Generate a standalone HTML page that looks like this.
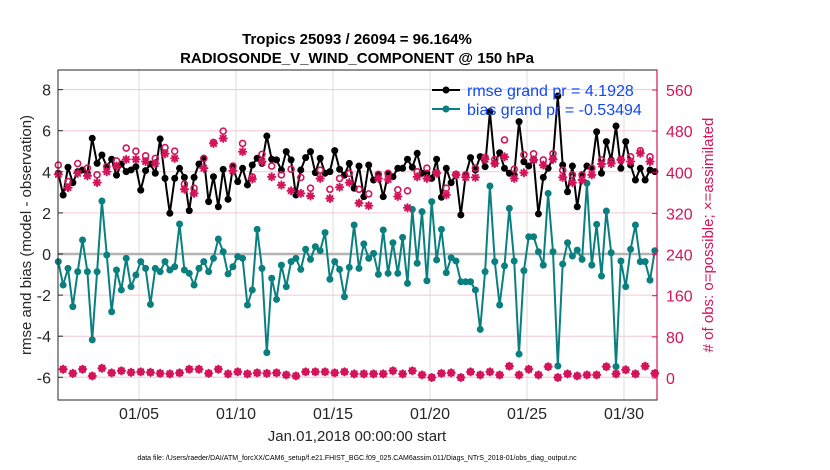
<!DOCTYPE html>
<html><head><meta charset="utf-8"><style>
body{margin:0;background:#fff;}
svg{display:block;font-family:"Liberation Sans",Arial,sans-serif;}
</style></head><body>
<svg id="chart" width="830" height="470" viewBox="0 0 830 470" xmlns="http://www.w3.org/2000/svg">
<text x="357" y="44" text-anchor="middle" font-size="15" font-weight="bold">Tropics 25093 / 26094 = 96.164%</text>
<text x="357" y="63" text-anchor="middle" font-size="15" font-weight="bold">RADIOSONDE_V_WIND_COMPONENT @ 150 hPa</text>
<g id="grid"></g>
<g id="marks"></g>
<rect x="58" y="70" width="599" height="330" fill="none" stroke="#262626" stroke-width="1"/>
<line x1="657" y1="70" x2="657" y2="400" stroke="#d4145a" stroke-width="1.2"/>
<g id="axes"></g>
<text transform="translate(31,235) rotate(-90)" text-anchor="middle" font-size="15" fill="#262626">rmse and bias (model - observation)</text>
<text transform="translate(713,235) rotate(-90)" text-anchor="middle" font-size="15" fill="#d4145a"># of obs: o=possible; ×=assimilated</text>
<text x="357" y="441" text-anchor="middle" font-size="15" fill="#262626">Jan.01,2018 00:00:00 start</text>
<text x="357" y="460" text-anchor="middle" font-size="7" fill="#000">data file: /Users/raeder/DAI/ATM_forcXX/CAM6_setup/f.e21.FHIST_BGC.f09_025.CAM6assim.011/Diags_NTrS_2018-01/obs_diag_output.nc</text>
<g>
 <g>
  <line x1="432" y1="90" x2="460" y2="90" stroke="#000" stroke-width="2"/>
  <circle cx="446" cy="90" r="3.5" fill="#000"/>
  <text x="467" y="96" font-size="16" fill="#1248f5">rmse grand pr = 4.1928</text>
 </g>
 <g>
  <line x1="432" y1="109" x2="460" y2="109" stroke="#0a7f7f" stroke-width="2"/>
  <circle cx="446" cy="109" r="3.5" fill="#0a7f7f"/>
  <text x="467" y="115" font-size="16" fill="#1248f5">bias grand pr = -0.53494</text>
 </g>
</g>
</svg>
<script>
const rmse=[3.93,2.87,4.22,3.47,4.01,4.09,3.93,5.63,4.41,4.82,4.25,4.61,3.84,4.38,4.01,4.09,4.25,3.11,4.06,4.38,3.93,5.60,3.68,1.98,3.68,4.17,3.73,2.11,3.73,4.38,4.66,2.55,3.76,2.30,4.12,2.66,4.22,3.52,4.17,3.36,4.33,4.66,4.41,5.74,
4.61,4.58,4.09,4.98,4.58,2.87,4.09,4.69,4.98,3.96,4.66,3.93,4.01,5.03,4.12,3.84,4.41,3.20,4.28,2.79,4.33,3.60,3.84,2.79,3.89,3.76,4.17,4.17,4.61,4.22,4.90,3.93,3.93,3.68,4.61,2.76,4.17,3.47,3.84,1.90,3.84,
4.69,4.09,4.74,4.25,6.93,4.41,4.93,4.17,3.93,3.84,6.44,4.49,4.28,4.57,1.95,3.73,4.17,4.66,7.69,4.33,3.03,4.28,2.30,3.84,4.28,4.17,5.95,3.93,5.47,4.57,6.23,4.17,5.47,4.33,3.60,4.17,3.60,4.09,4.01];
const bias=[-0.37,-1.51,-0.70,-2.56,-0.86,0.68,-0.86,-4.18,-0.86,2.58,-0.05,-2.81,-0.78,-1.75,-0.21,-1.59,-1.02,-0.37,-0.70,-2.45,-0.70,-0.86,-0.37,-0.78,-0.62,1.46,-0.78,-0.94,-1.51,-0.70,-0.37,-0.86,-0.21,0.73,0.11,-0.97,-0.62,-0.13,-0.21,-2.48,-1.75,1.20,-0.70,-4.80,
-1.18,-2.21,-0.54,-1.59,-0.37,-0.21,-0.75,0.23,-0.26,0.36,0.16,1.04,-1.23,-0.37,-0.75,-2.08,-0.65,1.41,-0.70,0.49,-0.21,0.03,-0.99,1.17,-0.94,0.55,-0.94,0.81,-1.43,2.17,-0.45,2.06,-1.30,2.55,-0.29,1.20,-0.91,-0.18,-0.34,-1.35,-1.35,
-1.35,-1.75,-3.67,-0.86,3.31,-0.37,-2.48,-0.58,2.22,-0.34,-4.87,-0.81,0.84,0.84,0.11,-0.54,2.95,0.11,-5.45,-0.49,0.55,-0.10,0.19,-0.26,3.44,-0.54,1.44,-1.07,2.09,0.06,-5.48,-0.34,-1.59,0.23,1.41,-0.37,-0.37,-1.27,0.16];
const possibleHigh=[414,382,417,408,395,411,422,447,441,432,427,448,441,377,369,427,458,480,412,456,391,435,
412,395,406,390,369,404,367,388,398,367,358,396,398,366,364,401,408,399,369,396,
395,408,429,425,463,406,434,436,424,436,404,395,395,408,424,421,425,430,442,430];
const assimHigh=[396,370,398,393,380,401,412,425,425,421,417,436,427,367,359,408,456,466,403,440,387,421,
391,375,364,359,354,388,349,371,380,340,335,388,386,353,331,391,388,398,356,395,
390,390,425,417,430,388,399,424,414,425,390,380,385,395,416,417,424,421,437,421];
const countLow=[17,9,17,4,19,10,14,11,12,11,9,8,10,17,17,9,17,8,12,8,10,9,
10,6,4,12,12,12,10,12,8,8,8,8,14,8,14,6,1,9,10,1,
12,6,12,6,23,6,17,6,22,1,8,4,6,6,22,8,16,8,23,9];
const xTickLabels=['01/05','01/10','01/15','01/20','01/25','01/30'];
const xTickDays=[5,10,15,20,25,30];
const yLeftTicks=[-6,-4,-2,0,2,4,6,8];
const yRightTicks=[0,80,160,240,320,400,480,560];

const NS='http://www.w3.org/2000/svg';
const X0=58,X1=657,Y0=70,Y1=400;
function xDay(d){return 61.4+(d-1)*19.4;}
function tOf(i){return 0.84+i*0.25;}
function yL(v){return 254-v*20.55;}
function yR(r){return 378-r*0.5143;}
function mk(tag,attrs,parent){const e=document.createElementNS(NS,tag);for(const k in attrs)e.setAttribute(k,attrs[k]);parent.appendChild(e);return e;}
const grid=document.getElementById('grid'),marks=document.getElementById('marks'),axes=document.getElementById('axes');

yLeftTicks.forEach(v=>{
 const y=yL(v);
 if(v!==0){const g=mk('line',{x1:X0,x2:X1,y1:y,y2:y,stroke:'#f3c6d8','stroke-width':1},grid);
 
 }
 const t=mk('line',{x1:X0,x2:X0+5,y1:y,y2:y,stroke:'#262626'},axes);
 
 
 const l=mk('text',{x:X0-7,y:y+6,'text-anchor':'end','font-size':16,fill:'#262626'},axes);
 l.textContent=v;
 
 
});
yRightTicks.forEach(r=>{
 const y=yR(r);
 const t=mk('line',{x1:X1-5,x2:X1,y1:y,y2:y,stroke:'#d4145a'},axes);
 
 
 const l=mk('text',{x:X1+9,y:y+6,'font-size':16,fill:'#d4145a'},axes);
 l.textContent=r;
 
 
});
xTickDays.forEach((d,i)=>{
 const x=xDay(d);
 const g=mk('line',{x1:x,x2:x,y1:Y0,y2:Y1,stroke:'#dcdcdc','stroke-width':1},grid);
 
 
 const l=mk('text',{x:x,y:Y1+19,'text-anchor':'middle','font-size':16,fill:'#262626'},axes);
 l.textContent=xTickLabels[i];
 
 
});
const z=mk('line',{x1:X0,x2:X1,y1:yL(0),y2:yL(0),stroke:'#b4b4b4','stroke-width':2.5},grid);



function series(vals,color,name){
 const pts=vals.map((v,i)=>xDay(tOf(i)).toFixed(1)+','+yL(v).toFixed(1)).join(' ');
 const pl=mk('polyline',{points:pts,fill:'none',stroke:color,'stroke-width':2,'stroke-linejoin':'round'},marks);
 
 
 vals.forEach((v,i)=>{
  const c=mk('circle',{cx:xDay(tOf(i)),cy:yL(v),r:3.5,fill:color},marks);
  
  
 });
}
series(rmse,'#000','rmse');
series(bias,'#0a7f7f','bias');

function star(x,y){
 const g=mk('g',{stroke:'#d4145a','stroke-width':2,'stroke-linecap':'round'},marks);
 
 
 const s=3.6;
 mk('line',{x1:x-s,x2:x+s,y1:y,y2:y},g);
 mk('line',{x1:x,x2:x,y1:y-s,y2:y+s},g);
 mk('line',{x1:x-s*0.7,x2:x+s*0.7,y1:y-s*0.7,y2:y+s*0.7},g);
 mk('line',{x1:x-s*0.7,x2:x+s*0.7,y1:y+s*0.7,y2:y-s*0.7},g);
}
function circ(x,y){
 const c=mk('circle',{cx:x,cy:y,r:3,fill:'none',stroke:'#d4145a','stroke-width':1.6},marks);
 
 
}
possibleHigh.forEach((v,k)=>{const x=xDay(tOf(2*k));circ(x,yR(v));star(x,yR(assimHigh[k]));});
countLow.forEach((v,k)=>{const x=xDay(tOf(2*k+1));star(x,yR(v));circ(x,yR(v));});
</script>
</body></html>
